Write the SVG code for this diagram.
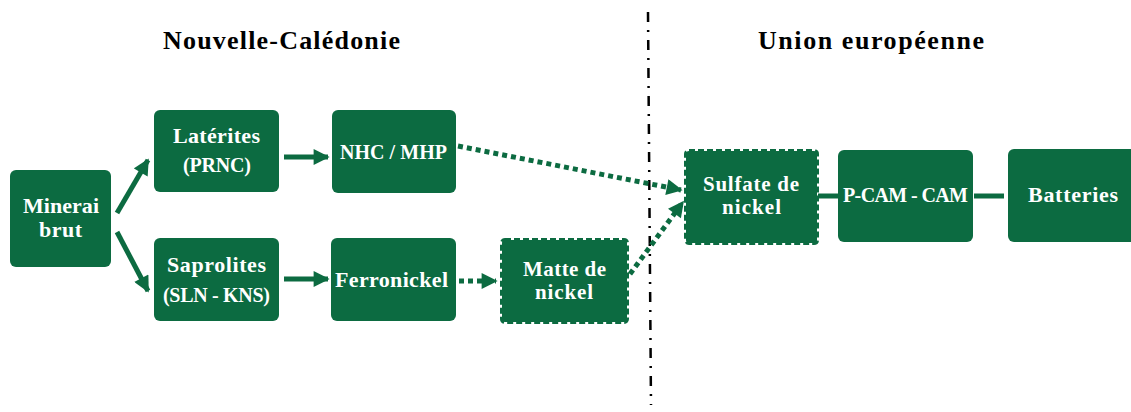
<svg xmlns="http://www.w3.org/2000/svg" width="1131" height="412" viewBox="0 0 1131 412">
<defs>
<style>
.box{fill:#0c6b41;}
.dbox{fill:#0c6b41;stroke:#0c6b41;stroke-width:4;stroke-dasharray:6 3;}
.t{font-family:"Liberation Serif","Times New Roman",serif;font-weight:bold;font-size:22px;fill:#fff;text-anchor:middle;}
.s{font-size:20px;}
.m{font-size:21px;}
.h{font-family:"Liberation Serif","Times New Roman",serif;font-weight:bold;font-size:26px;fill:#000;text-anchor:middle;}
.c{stroke:#0c6b41;stroke-width:5;fill:none;}
.d{stroke:#0c6b41;stroke-width:5;fill:none;stroke-dasharray:5 4;}
</style>
<marker id="ah" viewBox="0 0 10 10" refX="9" refY="5" markerWidth="3.4" markerHeight="3.2" orient="auto" markerUnits="strokeWidth">
<path d="M0,0 L10,5 L0,10 z" fill="#0c6b41"/>
</marker>
</defs>
<rect width="1131" height="412" fill="#fff"/>
<text class="h" x="281.5" y="49" textLength="237" lengthAdjust="spacing">Nouvelle-Calédonie</text>
<text class="h" x="871" y="49" textLength="226" lengthAdjust="spacing">Union européenne</text>
<line x1="648" y1="12" x2="651" y2="405" stroke="#000" stroke-width="2.5" stroke-dasharray="10 8 2 8"/>
<g id="connectors">
<line class="c" x1="117" y1="213" x2="148" y2="160" marker-end="url(#ah)"/>
<line class="c" x1="117" y1="232" x2="148" y2="291" marker-end="url(#ah)"/>
<line class="c" x1="284" y1="157" x2="328" y2="157" marker-end="url(#ah)"/>
<line class="c" x1="284" y1="279" x2="328" y2="279" marker-end="url(#ah)"/>
<line class="d" x1="458" y1="146" x2="681" y2="190" marker-end="url(#ah)"/>
<line class="d" x1="459" y1="281" x2="496" y2="281" marker-end="url(#ah)"/>
<line class="d" x1="630" y1="274" x2="683" y2="202" marker-end="url(#ah)"/>
<line class="c" x1="818" y1="196" x2="838" y2="196"/>
<line class="c" x1="974" y1="196" x2="1004" y2="196"/>
</g>
<g id="minerai"><rect class="box" x="10" y="170" width="101" height="97" rx="6"/><text class="t" x="61" y="213" textLength="76" lengthAdjust="spacing">Minerai</text><text class="t" x="60.5" y="237" textLength="43" lengthAdjust="spacing">brut</text></g>
<g id="laterites"><rect class="box" x="154" y="110" width="125" height="82" rx="6"/><text class="t" x="216.5" y="143" textLength="87" lengthAdjust="spacing">Latérites</text><text class="t s" x="217" y="172" textLength="68" lengthAdjust="spacing">(PRNC)</text></g>
<g id="saprolites"><rect class="box" x="154" y="238" width="125" height="83" rx="6"/><text class="t" x="216.5" y="272" textLength="99" lengthAdjust="spacing">Saprolites</text><text class="t s" x="216.5" y="302" textLength="107" lengthAdjust="spacing">(SLN - KNS)</text></g>
<g id="nhc"><rect class="box" x="332" y="110" width="124" height="83" rx="6"/><text class="t s" x="393.5" y="159" textLength="107" lengthAdjust="spacing">NHC / MHP</text></g>
<g id="ferronickel"><rect class="box" x="331" y="238" width="125" height="83" rx="6"/><text class="t" x="391.5" y="287" textLength="113" lengthAdjust="spacing">Ferronickel</text></g>
<g id="matte"><rect class="dbox" x="502" y="240" width="125" height="82" rx="3"/><text class="t m" x="564.5" y="276" textLength="83" lengthAdjust="spacing">Matte de</text><text class="t m" x="564" y="299" textLength="58" lengthAdjust="spacing">nickel</text></g>
<g id="sulfate"><rect class="dbox" x="686" y="151" width="131" height="92" rx="3"/><text class="t m" x="751" y="191" textLength="96" lengthAdjust="spacing">Sulfate de</text><text class="t m" x="751.5" y="214" textLength="59" lengthAdjust="spacing">nickel</text></g>
<g id="pcam"><rect class="box" x="838" y="150" width="135" height="92" rx="6"/><text class="t s" x="905.5" y="202" textLength="125" lengthAdjust="spacing">P-CAM - CAM</text></g>
<g id="batteries"><rect class="box" x="1008" y="149" width="130" height="93" rx="6"/><text class="t" x="1073" y="202" textLength="90" lengthAdjust="spacing">Batteries</text></g>
</svg>
